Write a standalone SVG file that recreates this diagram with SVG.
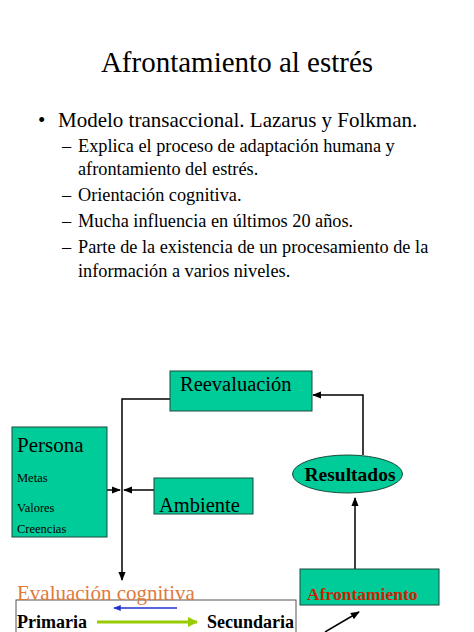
<svg xmlns="http://www.w3.org/2000/svg" width="474" height="632" viewBox="0 0 474 632">
<style>
text{font-family:"Liberation Serif","Times New Roman",serif;fill:#000}
.box{fill:#00CC99;stroke:#1a4a3a;stroke-width:1}
.ln{stroke:#000;stroke-width:1.5;fill:none}
.b{font-weight:bold}
</style>
<defs>
<marker id="ah" viewBox="0 0 10 10" refX="9" refY="5" markerWidth="6" markerHeight="6" orient="auto"><path d="M0,1 L10,5 L0,9 z" fill="#000"/></marker>
<marker id="ahb" viewBox="0 0 10 10" refX="9" refY="5" markerWidth="5" markerHeight="5" orient="auto"><path d="M0,1 L10,5 L0,9 z" fill="#2233cc"/></marker>
<marker id="ahg" viewBox="0 0 10 10" refX="9" refY="5" markerWidth="3.5" markerHeight="3.5" orient="auto"><path d="M0,0 L10,5 L0,10 z" fill="#99CC00"/></marker>
</defs>
<g id="header">
<text x="237" y="72" font-size="29" text-anchor="middle">Afrontamiento al estrés</text>
<text x="38" y="127" font-size="21">•</text>
<text x="58" y="127" font-size="21">Modelo transaccional. Lazarus y Folkman.</text>
<g font-size="18.3">
<text x="62" y="152">–</text><text x="78" y="152">Explica el proceso de adaptación humana y</text>
<text x="78" y="175">afrontamiento del estrés.</text>
<text x="62" y="201">–</text><text x="78" y="201">Orientación cognitiva.</text>
<text x="62" y="227">–</text><text x="78" y="227">Mucha influencia en últimos 20 años.</text>
<text x="62" y="253">–</text><text x="78" y="253">Parte de la existencia de un procesamiento de la</text>
<text x="78" y="277">información a varios niveles.</text>
</g>
</g>
<g id="connectors">
<polyline class="ln" points="170,399 122,399 122,580" marker-end="url(#ah)"/>
<line class="ln" x1="107" y1="490" x2="120" y2="490" marker-end="url(#ah)"/>
<line class="ln" x1="154" y1="490" x2="124" y2="490" marker-end="url(#ah)"/>
<polyline class="ln" points="363,455 363,395 313,395" marker-end="url(#ah)"/>
<line class="ln" x1="355" y1="569" x2="355" y2="498" marker-end="url(#ah)"/>
<line class="ln" x1="325" y1="632" x2="359" y2="612" marker-end="url(#ah)"/>
<line x1="177" y1="608" x2="114" y2="608" stroke="#2233cc" stroke-width="1.5" marker-end="url(#ahb)"/>
<line x1="97" y1="622" x2="197" y2="622" stroke="#99CC00" stroke-width="3" marker-end="url(#ahg)"/>
</g>
<g id="reevaluacion">
<rect class="box" x="170" y="371" width="142" height="40"/>
<text x="180" y="391" font-size="20.5">Reevaluación</text>
</g>
<g id="persona">
<rect class="box" x="12" y="427" width="95" height="110"/>
<text x="17" y="452" font-size="21">Persona</text>
<text x="17" y="482" font-size="12.5">Metas</text>
<text x="17" y="512" font-size="12.5">Valores</text>
<text x="17" y="533" font-size="12.5">Creencias</text>
</g>
<g id="ambiente">
<rect class="box" x="154" y="478" width="99" height="36"/>
<text x="159" y="512" font-size="20.5">Ambiente</text>
</g>
<g id="resultados">
<ellipse class="box" cx="347.5" cy="474" rx="55" ry="19"/>
<text x="350" y="481" font-size="19.5" class="b" text-anchor="middle">Resultados</text>
</g>
<g id="afrontamiento">
<rect class="box" x="300" y="569" width="139" height="36"/>
<text x="307" y="600" font-size="17.5" class="b" style="fill:#CC2200">Afrontamiento</text>
</g>
<g id="evaluacion">
<rect x="16" y="600" width="280" height="40" fill="none" stroke="#555" stroke-width="1"/>
<text x="17" y="600" font-size="21" style="fill:#E07A3A">Evaluación cognitiva</text>
<text x="17" y="628" font-size="18" class="b">Primaria</text>
<text x="207" y="628" font-size="18" class="b">Secundaria</text>
</g>
</svg>
